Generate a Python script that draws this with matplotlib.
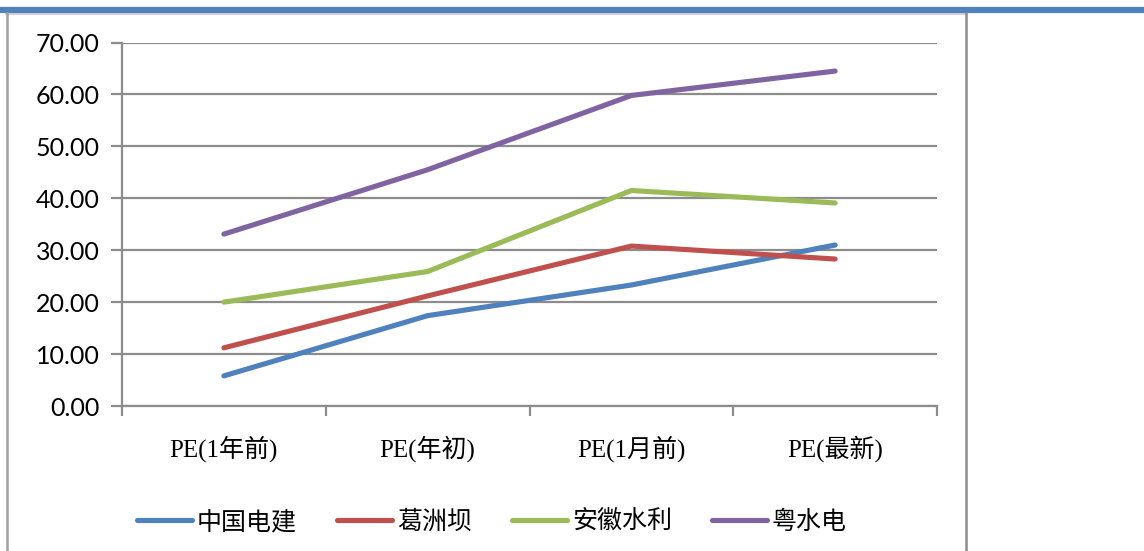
import matplotlib
matplotlib.use("Agg")
import matplotlib.pyplot as plt
from matplotlib.lines import Line2D

categories = ["PE(1年前)", "PE(年初)", "PE(1月前)", "PE(最新)"]
names = ["中国电建", "葛洲坝", "安徽水利", "粤水电"]
zgdj = [5.8, 17.4, 23.3, 31.0]
gzb = [11.2, 21.2, 30.8, 28.3]
ahsl = [20.0, 25.9, 41.5, 39.1]
ysd = [33.1, 45.5, 59.8, 64.5]
colors = ["#4F81BD", "#C0504D", "#9BBB59", "#8064A2"]

W, H = 1144, 551
fig = plt.figure(figsize=(W / 100, H / 100), dpi=100)
ax = fig.add_axes([122 / W, 1 - 406 / H, 815 / W, 363.5 / H])

x = [0.5, 1.5, 2.5, 3.5]
for vals, c, n in zip([zgdj, gzb, ahsl, ysd], colors, names):
    ax.plot(x, vals, color=c, lw=3.7, solid_capstyle="round", label=n, zorder=3)

ax.set_xlim(0, 4)
ax.set_ylim(0, 70)
ax.set_yticks(range(0, 71, 10))
ax.set_yticklabels([f"{v:.2f}" for v in range(0, 71, 10)],
                   fontsize=18, family=["Lato", "DejaVu Sans"])
ax.grid(axis="y", color="#8c8c8c", lw=1.6, zorder=1)
ax.set_xticks([0, 1, 2, 3, 4])
ax.set_xticklabels([])
ax.set_xticks(x, minor=True)
ax.set_xticklabels(categories, minor=True, fontsize=18,
                   family=["Liberation Serif", "Noto Sans CJK SC"])
ax.tick_params(axis="x", which="minor", length=0, pad=21)
ax.tick_params(axis="x", which="major", length=7, width=1.6, color="#8c8c8c")
ax.tick_params(axis="y", length=8, width=1.6, color="#8c8c8c", pad=8)
for s in ["top", "right"]:
    ax.spines[s].set_visible(False)
for s in ["left", "bottom"]:
    ax.spines[s].set_color("#8c8c8c")
    ax.spines[s].set_linewidth(1.6)

leg = ax.legend(loc="center", bbox_to_anchor=(492 / W, 1 - 522 / H),
                bbox_transform=fig.transFigure, ncol=4, frameon=False,
                prop={"family": ["Noto Sans CJK SC", "DejaVu Sans"], "size": 18},
                handlelength=2.2, handletextpad=0.2, columnspacing=1.6)

# outer frame
def fline(x0, y0, x1, y1, **kw):
    fig.add_artist(Line2D([x0 / W, x1 / W], [1 - y0 / H, 1 - y1 / H],
                          transform=fig.transFigure, **kw))

fline(0, 9.5, W, 9.5, color="#4F81BD", lw=4.5)
fline(6, 13.5, 967, 13.5, color="#c8c8c8", lw=1.2)
fline(6.5, 13, 6.5, H, color="#a0a0a0", lw=1.8)
fline(966, 13, 966, H, color="#8c8c8c", lw=1.8)

fig.savefig("out.png", dpi=100)
